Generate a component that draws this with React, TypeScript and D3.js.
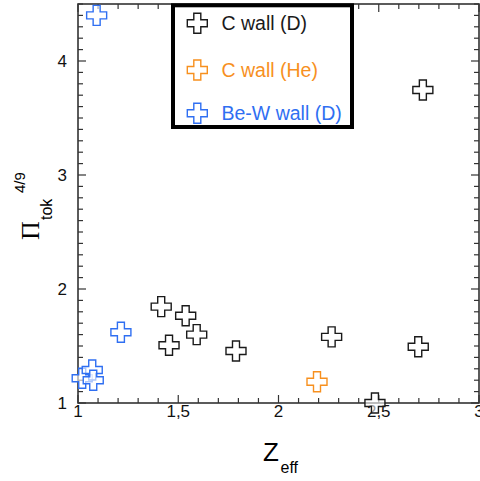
import React from "react";
import * as d3 from "d3";

const cWallD_x = [2.72, 1.415, 1.537, 1.592, 1.454, 1.788, 2.265, 2.697, 2.481];
const cWallD_y = [3.746, 1.845, 1.766, 1.6, 1.506, 1.456, 1.58, 1.494, 1.0];
const cWallHe_x = [2.192];
const cWallHe_y = [1.187];
const beW_x = [1.093, 1.214, 1.021, 1.071, 1.076];
const beW_y = [4.4, 1.62, 1.217, 1.29, 1.2];

const seriesNames = ["C wall (D)", "C wall (He)", "Be-W wall (D)"];
const seriesColors = ["#1a1a1a", "#f7901e", "#2f6ff2"];
const xTicks = [1, 1.5, 2, 2.5, 3];
const xTickLabels = ["1", "1,5", "2", "2,5", "3"];
const yTicks = [1, 2, 3, 4];
const yTickLabels = ["1", "2", "3", "4"];

const W = 480, H = 481;
const L = 78, R = 479, T = 4, B = 403;

const crossPath = (s: number, a: number) =>
  `M${-a},${-s}H${a}V${-a}H${s}V${a}H${a}V${s}H${-a}V${a}H${-s}V${-a}H${-a}Z`;

export default function App() {
  const x = d3.scaleLinear().domain([1, 3]).range([L, R]);
  const y = d3.scaleLinear().domain([1, 4.5]).range([B, T]);
  const series = [
    { xs: cWallD_x, ys: cWallD_y },
    { xs: cWallHe_x, ys: cWallHe_y },
    { xs: beW_x, ys: beW_y },
  ];
  const xMinor = d3.range(1, 3.0001, 0.1);
  const yMinor = d3.range(1, 4.5001, 0.1);
  const isMajor = (v: number, step: number) => Math.abs(v / step - Math.round(v / step)) < 1e-6;
  const axisColor = "#333";
  const cp = crossPath(10, 3.5);
  const font = "Liberation Sans, Arial, sans-serif";

  return (
    <svg width={W} height={H} style={{ position: "absolute", left: 0, top: 0 }}>
      <rect x={0} y={0} width={W} height={H} fill="#fff" />
      {/* ticks */}
      {xMinor.map((v, i) => {
        const len = isMajor(v, 0.5) ? 8 : 5;
        return (
          <g key={"xt" + i} stroke={axisColor} strokeWidth={1.2}>
            <line x1={x(v)} x2={x(v)} y1={B} y2={B - len} />
            <line x1={x(v)} x2={x(v)} y1={T} y2={T + len} />
          </g>
        );
      })}
      {yMinor.map((v, i) => {
        const len = isMajor(v, 1) ? 8 : 5;
        return (
          <g key={"yt" + i} stroke={axisColor} strokeWidth={1.2}>
            <line x1={L} x2={L + len} y1={y(v)} y2={y(v)} />
            <line x1={R} x2={R - len} y1={y(v)} y2={y(v)} />
          </g>
        );
      })}
      <rect x={L} y={T} width={R - L} height={B - T} fill="none" stroke={axisColor} strokeWidth={1.6} />
      {/* tick labels */}
      {xTicks.map((v, i) => (
        <text key={"xl" + i} x={x(v)} y={B + 14} fontFamily={font} fontSize={17} textAnchor="middle" fill="#111">
          {xTickLabels[i]}
        </text>
      ))}
      {yTicks.map((v, i) => (
        <text key={"yl" + i} x={L - 11} y={y(v) + 5.8} fontFamily={font} fontSize={17} textAnchor="end" fill="#111">
          {yTickLabels[i]}
        </text>
      ))}
      {/* axis titles */}
      <text x={263} y={461} fontFamily={font} fontSize={26} fill="#000">Z</text>
      <text x={280.5} y={472.5} fontFamily={font} fontSize={16} fill="#000">eff</text>
      <g transform="translate(38.5,240) rotate(-90)">
        <text x={0} y={0} fontFamily="Liberation Serif, Times New Roman, serif" fontSize={26} fill="#000">Π</text>
        <text x={20} y={13} fontFamily={font} fontSize={16} fill="#000">tok</text>
        <text x={47} y={-13.5} fontFamily={font} fontSize={15} fill="#000">4/9</text>
      </g>
      {/* points */}
      {series.map((s, si) =>
        s.xs.map((xv, i) => (
          <path key={si + "-" + i} d={cp} transform={`translate(${x(xv)},${y(s.ys[i])})`}
            fill="#fff" fillOpacity={0.6} stroke={seriesColors[si]} strokeWidth={1.4} />
        ))
      )}
      {/* legend */}
      <rect x={175} y={7.5} width={179} height={121.5} fill="#999" />
      <rect x={173} y={5.3} width={179} height={121.7} fill="#fff" stroke="#000" strokeWidth={4} />
      {seriesNames.map((n, i) => {
        const ly = [23.3, 70, 113.3][i];
        return (
          <g key={"lg" + i}>
            <path d={cp} transform={`translate(197.3,${ly})`} fill="#fff" stroke={seriesColors[i]} strokeWidth={1.4} />
            <text x={221.5} y={ly + 7} fontFamily={font} fontSize={19.5} fill={seriesColors[i]}>{n}</text>
          </g>
        );
      })}
    </svg>
  );
}
